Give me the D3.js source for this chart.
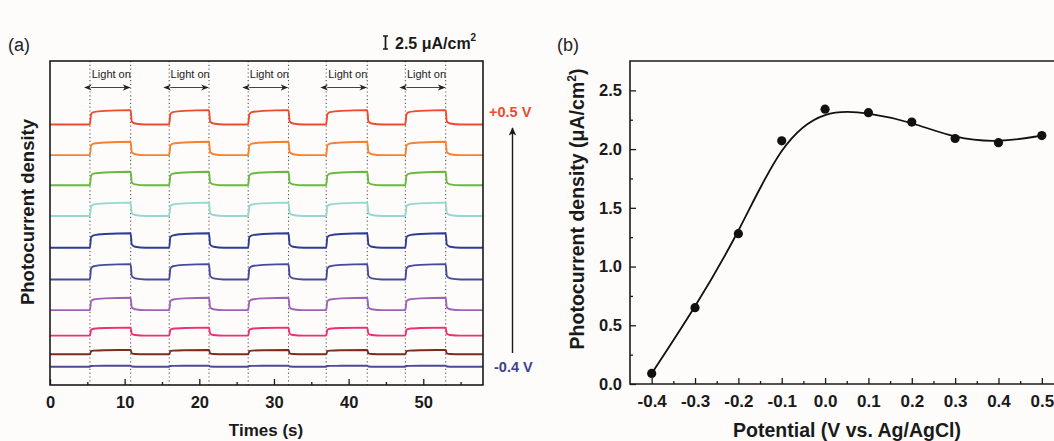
<!DOCTYPE html>
<html>
<head>
<meta charset="utf-8">
<script src="https://cdn.jsdelivr.net/npm/d3@7/dist/d3.min.js"></script>
<style>
  html, body { margin: 0; padding: 0; background: #fdfcfb; }
  svg { display: block; font-family: "Liberation Sans", Arial, sans-serif; }
</style>
</head>
<body>
<svg id="chart" width="1054" height="441"></svg>
<script>
// ---------- Panel (a): chopped-light transients ----------
// Light-on / light-off instants (s)
const lightOn  = [5.35, 15.97, 26.55, 37.0, 47.6];
const lightOff = [10.8, 21.3, 31.95, 42.5, 53.0];
// Traces, bottom to top (-0.4 V ... +0.5 V)
const tracePotentials = ["-0.4", "-0.3", "-0.2", "-0.1", "0.0", "0.1", "0.2", "0.3", "0.4", "0.5"];
const traceColors = ["#4d4a94", "#7b2c1c", "#ee2f74", "#9e62b8", "#464a9e", "#2e3c95", "#96d8cf", "#6ab83f", "#f58232", "#ee4a2e"];
// Dark-current level of each trace (stacked offset, μA/cm²)
const traceBaseline = [3.5, 5.9, 9.5, 14.4, 20.3, 26.4, 32.5, 38.4, 44.2, 50.1];
// Photocurrent step of each trace (μA/cm²)
const traceAmplitude = [0.2, 0.83, 1.54, 2.37, 2.94, 2.77, 2.56, 2.6, 2.56, 2.75];
// Transient profile: [seconds after switch, fraction of step]
const riseProfile = [[0, 0], [0.15, 0.72], [0.5, 0.86], [2.0, 0.95]];
const fallProfile = [[0, 1], [0.15, 0.22], [0.6, 0.07], [2.0, 0]];
const timeTicks = [0, 10, 20, 30, 40, 50];
const scaleBarValue = 2.5;

// ---------- Panel (b): photocurrent vs. potential ----------
const potentials = [-0.4, -0.3, -0.2, -0.1, 0.0, 0.1, 0.2, 0.3, 0.4, 0.5];
const photocurrent = [0.09, 0.65, 1.28, 2.07, 2.34, 2.31, 2.23, 2.09, 2.055, 2.115];
const potentialTicks = [-0.4, -0.3, -0.2, -0.1, 0.0, 0.1, 0.2, 0.3, 0.4, 0.5];
const currentTicks = [0.0, 0.5, 1.0, 1.5, 2.0, 2.5];

const svg = d3.select("#chart");
const ink = "#1a1a1a";
const FONT = "Liberation Sans, Arial, sans-serif";

// ======================= Panel (a) =======================
const ax = { left: 50, right: 483, top: 61, bottom: 385 };
const xA = d3.scaleLinear().domain([0, 58]).range([ax.left, ax.right]);
const yA = d3.scaleLinear().domain([0, 62.3]).range([ax.bottom, ax.top]);

const gA = svg.append("g");

// light switching guides
const switchTimes = lightOn.concat(lightOff);
gA.selectAll("line.guide").data(switchTimes).join("line")
  .attr("class", "guide")
  .attr("x1", d => xA(d)).attr("x2", d => xA(d))
  .attr("y1", ax.top).attr("y2", ax.bottom)
  .attr("stroke", "#555").attr("stroke-width", 1.1)
  .attr("stroke-dasharray", "1.2,2.6");

// traces
function tracePoints(i) {
  const base = traceBaseline[i], amp = traceAmplitude[i];
  const pts = [[0, base]];
  lightOn.forEach((on, k) => {
    const off = lightOff[k];
    riseProfile.forEach(([dt, f]) => pts.push([on + dt, base + f * amp]));
    pts.push([off, base + amp]);
    fallProfile.slice(1).forEach(([dt, f]) => pts.push([off + dt, base + f * amp]));
  });
  pts.push([58, base]);
  return pts;
}
const traceLine = d3.line().x(d => xA(d[0])).y(d => yA(d[1])).curve(d3.curveMonotoneX);
gA.selectAll("path.trace").data(d3.range(tracePotentials.length)).join("path")
  .attr("class", "trace")
  .attr("d", i => traceLine(tracePoints(i)))
  .attr("fill", "none")
  .attr("stroke", i => traceColors[i])
  .attr("stroke-width", 1.9);

// "Light on" annotations
const defs = svg.append("defs");
["arrowEnd", "arrowStart"].forEach((id, j) => {
  defs.append("marker").attr("id", id)
    .attr("viewBox", "0 0 10 10").attr("refX", j ? 1 : 9).attr("refY", 5)
    .attr("markerWidth", 7).attr("markerHeight", 7).attr("orient", "auto-start-reverse")
    .append("path").attr("d", "M0,1 L10,5 L0,9 L3,5 Z").attr("fill", "#222");
});
lightOn.forEach((on, k) => {
  const off = lightOff[k];
  gA.append("text")
    .attr("x", (xA(on) + xA(off)) / 2 + 1).attr("y", 77.5)
    .attr("text-anchor", "middle").attr("font-size", 11).attr("fill", "#222")
    .text("Light on");
  gA.append("line")
    .attr("x1", xA(on) + 1).attr("x2", xA(off) - 1)
    .attr("y1", 87.5).attr("y2", 87.5)
    .attr("stroke", "#444").attr("stroke-width", 1.1)
    .attr("marker-start", "url(#arrowStart)")
    .attr("marker-end", "url(#arrowEnd)");
});

// frame and axis
gA.append("rect")
  .attr("x", ax.left).attr("y", ax.top)
  .attr("width", ax.right - ax.left).attr("height", ax.bottom - ax.top)
  .attr("fill", "none").attr("stroke", ink).attr("stroke-width", 1.6);

const xAxisA = gA.append("g").attr("transform", `translate(0,${ax.bottom})`)
  .call(d3.axisBottom(xA).tickValues(timeTicks).tickSize(-6).tickPadding(11).tickFormat(d3.format("d")));
gA.append("g").attr("transform", `translate(0,${ax.bottom})`)
  .call(d3.axisBottom(xA).tickValues(d3.range(5, 58, 10)).tickSize(-3).tickFormat(""))
  .call(g => g.select(".domain").remove())
  .selectAll("line").attr("stroke", ink).attr("stroke-width", 1.3);
xAxisA.select(".domain").remove();
xAxisA.selectAll("line").attr("stroke", ink).attr("stroke-width", 1.3);
xAxisA.selectAll("text").attr("font-size", 16.5).attr("font-weight", "bold").attr("fill", ink)
  .attr("font-family", FONT);

gA.append("text").attr("x", 266).attr("y", 436)
  .attr("text-anchor", "middle").attr("font-size", 17).attr("font-weight", "bold").attr("fill", ink)
  .text("Times (s)");
gA.append("text")
  .attr("transform", `translate(34,212) rotate(-90)`)
  .attr("text-anchor", "middle").attr("font-size", 18.5).attr("font-weight", "bold").attr("fill", ink)
  .text("Photocurrent density");
svg.append("text").attr("x", 8).attr("y", 51).attr("font-size", 18).attr("fill", "#222").text("(a)");

// scale bar
const barX = 385.5, barBottom = 49;
const barTop = barBottom - (yA(0) - yA(scaleBarValue));
gA.append("path")
  .attr("d", `M${barX - 2.5},${barTop}H${barX + 2.5}M${barX},${barTop}V${barBottom}M${barX - 2.5},${barBottom}H${barX + 2.5}`)
  .attr("stroke", ink).attr("stroke-width", 1.7).attr("fill", "none");
const barLabel = gA.append("text").attr("x", 395).attr("y", 49)
  .attr("font-size", 16).attr("font-weight", "bold").attr("fill", ink);
barLabel.append("tspan").text(scaleBarValue + " μA/cm");
barLabel.append("tspan").attr("dy", -8).attr("font-size", 10).text("2");

// potential direction arrow
gA.append("text").attr("x", 489).attr("y", 117).attr("font-size", 14.5).attr("font-weight", "bold")
  .attr("fill", traceColors[traceColors.length - 1]).text("+" + tracePotentials[tracePotentials.length - 1] + " V");
gA.append("text").attr("x", 494).attr("y", 372).attr("font-size", 14.5).attr("font-weight", "bold")
  .attr("fill", "#3f3f8f").text(tracePotentials[0] + " V");
defs.append("marker").attr("id", "upArrow")
  .attr("viewBox", "0 0 10 10").attr("refX", 9).attr("refY", 5)
  .attr("markerWidth", 6).attr("markerHeight", 6).attr("orient", "auto")
  .append("path").attr("d", "M0,0.5 L10,5 L0,9.5 L2.5,5 Z").attr("fill", ink);
gA.append("line").attr("x1", 512.5).attr("x2", 512.5).attr("y1", 353).attr("y2", 128)
  .attr("stroke", ink).attr("stroke-width", 1.4).attr("marker-end", "url(#upArrow)");

// ======================= Panel (b) =======================
const bx = { left: 630, right: 1063.5, top: 61, bottom: 384 };
const xB = d3.scaleLinear().domain([-0.45, 0.55]).range([bx.left, bx.right]);
const yB = d3.scaleLinear().domain([0, 2.75]).range([bx.bottom, bx.top]);
const gB = svg.append("g");

// frame (left, top, bottom)
gB.append("path")
  .attr("d", `M${bx.right},${bx.top}H${bx.left}V${bx.bottom}H${bx.right}`)
  .attr("fill", "none").attr("stroke", ink).attr("stroke-width", 1.6);

const xAxisB = gB.append("g").attr("transform", `translate(0,${bx.bottom})`)
  .call(d3.axisBottom(xB).tickValues(potentialTicks).tickSize(-6).tickPadding(11).tickFormat(d3.format(".1f")));
xAxisB.select(".domain").remove();
xAxisB.selectAll("line").attr("stroke", ink).attr("stroke-width", 1.3);
xAxisB.selectAll("text").attr("font-size", 17).attr("font-weight", "bold").attr("fill", ink)
  .attr("font-family", FONT)
  .text(d => d3.format(".1f")(d).replace("−", "-"));
gB.append("g").attr("transform", `translate(0,${bx.bottom})`)
  .call(d3.axisBottom(xB).tickValues(d3.range(-0.35, 0.56, 0.1)).tickSize(-3).tickFormat(""))
  .call(g => g.select(".domain").remove())
  .selectAll("line").attr("stroke", ink).attr("stroke-width", 1.3);

const yAxisB = gB.append("g").attr("transform", `translate(${bx.left},0)`)
  .call(d3.axisLeft(yB).tickValues(currentTicks).tickSize(-6).tickPadding(8).tickFormat(d3.format(".1f")));
yAxisB.select(".domain").remove();
yAxisB.selectAll("line").attr("stroke", ink).attr("stroke-width", 1.3);
yAxisB.selectAll("text").attr("font-size", 16.5).attr("font-weight", "bold").attr("fill", ink)
  .attr("font-family", FONT);
gB.append("g").attr("transform", `translate(${bx.left},0)`)
  .call(d3.axisLeft(yB).tickValues(d3.range(0.25, 2.75, 0.5)).tickSize(-3).tickFormat(""))
  .call(g => g.select(".domain").remove())
  .selectAll("line").attr("stroke", ink).attr("stroke-width", 1.3);

// smoothed fit and measured points
const fitLine = d3.line().x((d, i) => xB(potentials[i])).y(d => yB(d)).curve(d3.curveBasis);
gB.append("path").attr("d", fitLine(photocurrent))
  .attr("fill", "none").attr("stroke", "#111").attr("stroke-width", 1.8);
gB.selectAll("circle.pt").data(photocurrent).join("circle")
  .attr("class", "pt")
  .attr("cx", (d, i) => xB(potentials[i])).attr("cy", d => yB(d))
  .attr("r", 4.6).attr("fill", "#111");

gB.append("text").attr("x", 847).attr("y", 437)
  .attr("text-anchor", "middle").attr("font-size", 19.5).attr("font-weight", "bold").attr("fill", ink)
  .text("Potential (V vs. Ag/AgCl)");
const yTitleB = gB.append("text")
  .attr("transform", `translate(584,209) rotate(-90)`)
  .attr("text-anchor", "middle").attr("font-size", 19.5).attr("font-weight", "bold").attr("fill", ink);
yTitleB.append("tspan").text("Photocurrent density (μA/cm");
yTitleB.append("tspan").attr("dy", -8).attr("font-size", 12).text("2");
yTitleB.append("tspan").attr("dy", 8).text(")");
svg.append("text").attr("x", 557).attr("y", 51).attr("font-size", 18).attr("fill", "#222").text("(b)");
</script>
</body>
</html>
